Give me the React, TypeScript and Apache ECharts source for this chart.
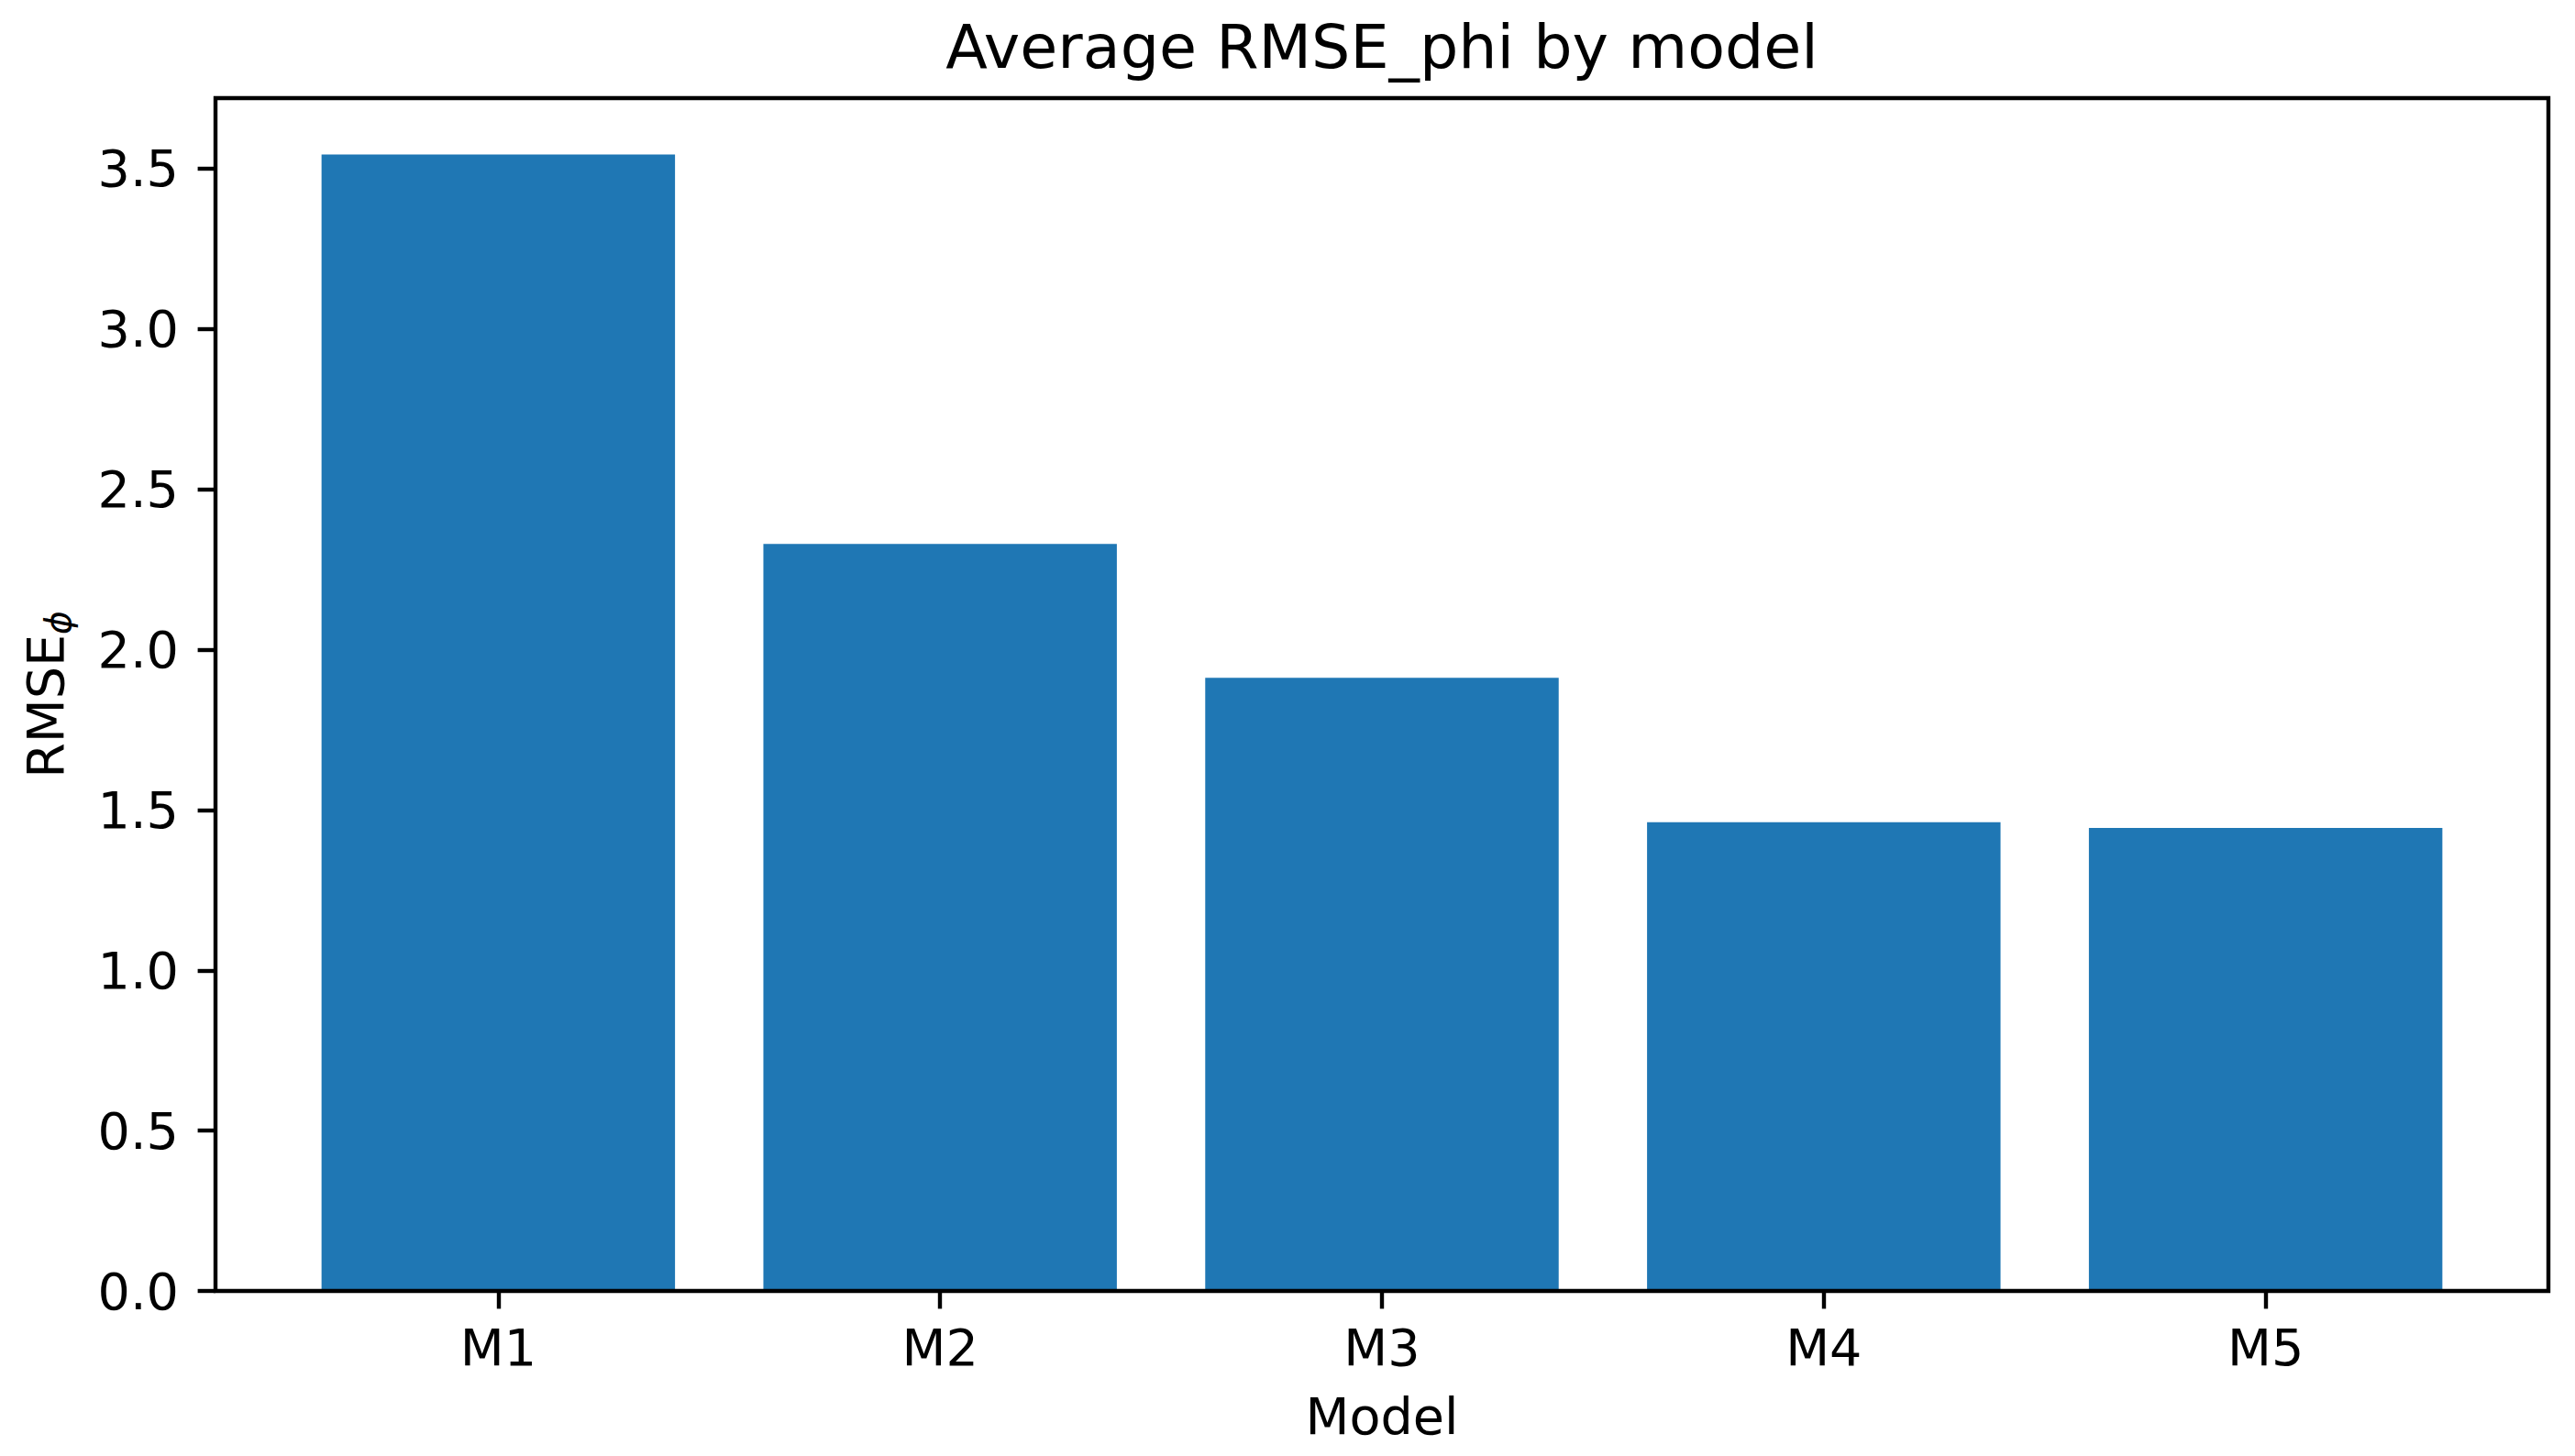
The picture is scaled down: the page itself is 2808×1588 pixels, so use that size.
import React, { useEffect, useRef } from "react";
import * as echarts from "echarts";

const categories = ["M1", "M2", "M3", "M4", "M5"];
const rmseValues = [3.544, 2.33, 1.912, 1.462, 1.444];
const yTickValues = [0, 0.5, 1, 1.5, 2, 2.5, 3, 3.5];
const yMin = 0;
const yMax = 3.72;

const W = 2808;
const H = 1588;
const FRAME_L = 235;
const FRAME_R = 2779;
const FRAME_T = 107;
const FRAME_B = 1408;
const FONT = "'DejaVu Sans', sans-serif";
const TICK_FS = 55.6;
const TITLE_FS = 66.7;
const LW = 4.4;

export default function App() {
  const ref = useRef<HTMLDivElement>(null);

  useEffect(() => {
    document.body.style.margin = "0";
    if (!ref.current) return;
    const chart = echarts.init(ref.current, null, { renderer: "svg", width: W, height: H });

    const n = categories.length;
    const span = n - 1 + 0.8 + 0.1 * (n - 1 + 0.8); // matplotlib xlim with 5% margins
    const unit = (FRAME_R - FRAME_L) / span;
    const edge = (0.4 + 0.05 * (n - 1 + 0.8) - 0.5) * unit; // distance from frame to first category band
    const gridLeft = FRAME_L + edge;
    const gridWidth = n * unit;

    const option: any = {
      animation: false,
      backgroundColor: "#ffffff",
      textStyle: { fontFamily: FONT },
      title: {
        text: "Average RMSE_phi by model",
        left: (FRAME_L + FRAME_R) / 2,
        textAlign: "center",
        top: 17,
        padding: 0,
        textStyle: { fontFamily: FONT, fontSize: TITLE_FS, fontWeight: "normal", color: "#000" },
      },
      grid: {
        left: gridLeft,
        width: gridWidth,
        top: FRAME_T,
        height: FRAME_B - FRAME_T,
        containLabel: false,
      },
      xAxis: {
        type: "category",
        data: categories,
        boundaryGap: true,
        axisLine: { show: false },
        axisTick: { show: true, alignWithLabel: true, length: 19.4, lineStyle: { color: "#000", width: LW } },
        axisLabel: { color: "#000", fontSize: TICK_FS, fontFamily: FONT, margin: 33 },
        splitLine: { show: false },
        name: "Model",
        nameLocation: "middle",
        nameGap: 108,
        nameTextStyle: { color: "#000", fontSize: TICK_FS, fontFamily: FONT },
      },
      yAxis: {
        type: "value",
        min: yMin,
        max: yMax,
        offset: edge,
        axisLine: { show: false },
        axisTick: {
          show: true,
          length: 19.4,
          customValues: yTickValues,
          lineStyle: { color: "#000", width: LW },
        },
        axisLabel: {
          color: "#000",
          fontSize: TICK_FS,
          fontFamily: FONT,
          margin: 40,
          customValues: yTickValues,
          formatter: (v: number) => v.toFixed(1),
        },
        splitLine: { show: false },
        name: "{m|RMSE}{s|ϕ}",
        nameLocation: "middle",
        nameRotate: 90,
        nameGap: 158,
        nameTextStyle: {
          color: "#000",
          fontFamily: FONT,
          rich: {
            m: { fontSize: TICK_FS, lineHeight: 56, fontFamily: FONT, color: "#000", verticalAlign: "middle" },
            s: {
              fontSize: 39,
              lineHeight: 40,
              fontFamily: FONT,
              fontStyle: "italic",
              color: "#000",
              padding: [28, 0, 0, 0],
              verticalAlign: "middle",
            },
          },
        },
      },
      series: [
        {
          type: "bar",
          data: rmseValues,
          barWidth: "80%",
          itemStyle: { color: "#1f77b4" },
        },
      ],
      graphic: [
        {
          type: "rect",
          z: 100,
          silent: true,
          shape: { x: FRAME_L, y: FRAME_T, width: FRAME_R - FRAME_L, height: FRAME_B - FRAME_T },
          style: { fill: "none", stroke: "#000", lineWidth: LW },
        },
      ],
    };

    chart.setOption(option);
    return () => chart.dispose();
  }, []);

  return <div ref={ref} style={{ width: W, height: H }} />;
}
